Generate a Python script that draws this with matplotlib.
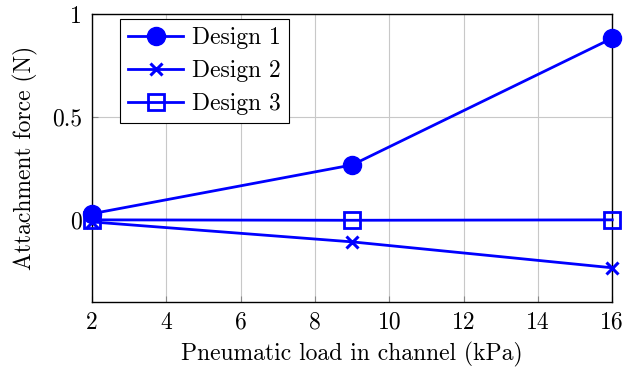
import numpy as np
import matplotlib
matplotlib.use('Agg')
import matplotlib.pyplot as plt

plt.rcParams['font.family'] = ['cmr10', 'DejaVu Serif']
plt.rcParams['mathtext.fontset'] = 'cm'
plt.rcParams['axes.unicode_minus'] = False

# data
load = [2, 9, 16]
design1 = [0.03, 0.267, 0.883]
design2 = [-0.01, -0.107, -0.233]
design3 = [0.0, -0.002, 0.0]
xticks = [2, 4, 6, 8, 10, 12, 14, 16]
yticks = [0, 0.5, 1]
ytick_labels = ['0', '0.5', '1']

blue = '#0000ff'

fig = plt.figure(figsize=(6.26, 3.73), dpi=100)
ax = fig.add_axes([0.147, 0.19, 0.831, 0.772])

ax.plot(load, design1, color=blue, lw=2, marker='o', ms=13,
        label='Design 1', clip_on=False, zorder=3)
ax.plot(load, design2, color=blue, lw=2, marker='x', ms=8, mew=2.2,
        label='Design 2', clip_on=False, zorder=3)
ax.plot(load, design3, color=blue, lw=2, marker='s', ms=11, mew=2,
        mfc='none', label='Design 3', clip_on=False, zorder=3)

ax.set_xlim(2, 16)
ax.set_ylim(-0.4, 1)
ax.set_xticks(xticks)
ax.set_yticks(yticks)
ax.set_yticklabels(ytick_labels)
ax.grid(True, color='#c8c8c8', lw=0.8)
ax.set_axisbelow(True)
ax.tick_params(direction='in', length=4, labelsize=17, top=False, right=False,
               color='#888888', pad=7)
for s in ax.spines.values():
    s.set_linewidth(1.0)

ax.set_xlabel('Pneumatic load in channel (kPa)', fontsize=17, labelpad=6)
ax.set_ylabel('Attachment force (N)', fontsize=17, labelpad=10)

leg = ax.legend(loc='upper left', bbox_to_anchor=(0.054, 0.983), fontsize=17,
                fancybox=False, edgecolor='black', framealpha=1,
                borderaxespad=0, handlelength=2.3, borderpad=0.35,
                labelspacing=0.45, handletextpad=0.4)
leg.get_frame().set_linewidth(0.8)

fig.savefig('out.png', dpi=100)
